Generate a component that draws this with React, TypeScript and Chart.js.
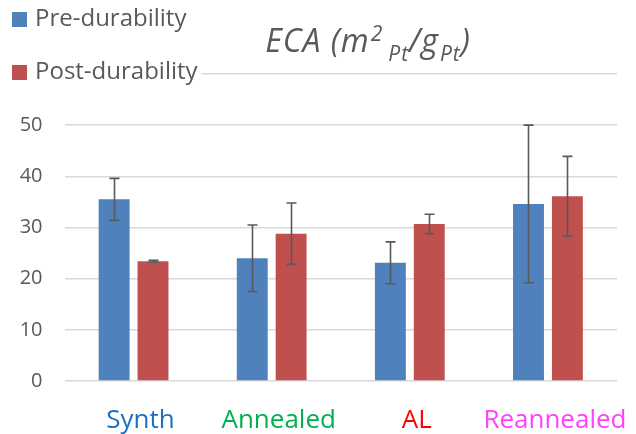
import React, { useEffect, useRef } from "react";
import { Chart, registerables } from "chart.js";

Chart.register(...registerables);

const categories = ["Synth", "Annealed", "AL", "Reannealed"];
const categoryColors = ["#1f6fc0", "#00b050", "#ff0000", "#ff40ff"];
const seriesNames = ["Pre-durability", "Post-durability"];
const seriesColors = ["#4f81bd", "#c0504d"];
const preValues = [35.5, 24.0, 23.1, 34.6];
const postValues = [23.4, 28.8, 30.7, 36.1];
const preErrors = [4.1, 6.5, 4.1, 15.4];
const postErrors = [0.2, 6.0, 1.9, 7.8];
const yTickLabels = [0, 10, 20, 30, 40, 50];
const yMax = 60;

const TEXT = "#595959";
const FONT = "'Open Sans', sans-serif";

const errorBarPlugin = {
  id: "errorBars",
  afterDatasetsDraw(chart: any) {
    const ctx = chart.ctx;
    const yScale = chart.scales.y;
    const errs = [preErrors, postErrors];
    ctx.save();
    ctx.strokeStyle = "#595959";
    ctx.lineWidth = 1.6;
    chart.data.datasets.forEach((ds: any, i: number) => {
      const meta = chart.getDatasetMeta(i);
      meta.data.forEach((el: any, j: number) => {
        const v = ds.data[j];
        const e = errs[i][j];
        const x = Math.round(el.x) + 0.5;
        const yTop = yScale.getPixelForValue(v + e);
        const yBot = yScale.getPixelForValue(v - e);
        const cap = 5;
        ctx.beginPath();
        ctx.moveTo(x, yTop);
        ctx.lineTo(x, yBot);
        ctx.moveTo(x - cap, yTop);
        ctx.lineTo(x + cap, yTop);
        ctx.moveTo(x - cap, yBot);
        ctx.lineTo(x + cap, yBot);
        ctx.stroke();
      });
    });
    ctx.restore();
  },
};

// title pieces: text, font size, baseline shift, extra gap before
const titlePieces: [string, number, number, number][] = [
  ["ECA (m", 32, 0, 0],
  ["2", 21, -11, 1],
  ["Pt", 21, 9, 5],
  ["/g", 32, 0, 0],
  ["Pt", 21, 9, 1],
  [")", 32, 0, 0],
];

const titlePlugin = {
  id: "richTitle",
  afterDraw(chart: any) {
    const ctx = chart.ctx;
    ctx.save();
    ctx.fillStyle = TEXT;
    ctx.textBaseline = "alphabetic";
    ctx.textAlign = "left";
    try {
      (ctx as any).letterSpacing = "1px";
    } catch (e) {}
    let total = 0;
    titlePieces.forEach(([t, size, , gap]) => {
      ctx.font = `italic ${size}px ${FONT}`;
      total += gap + ctx.measureText(t).width;
    });
    const cx = 368;
    const base = 52;
    let x = cx - total / 2;
    titlePieces.forEach(([t, size, dy, gap]) => {
      ctx.font = `italic ${size}px ${FONT}`;
      x += gap;
      ctx.fillText(t, x, base + dy);
      x += ctx.measureText(t).width;
    });
    ctx.restore();
  },
};

const legendPlugin = {
  id: "customLegend",
  afterDraw(chart: any) {
    const ctx = chart.ctx;
    ctx.save();
    ctx.font = `24px ${FONT}`;
    ctx.textBaseline = "middle";
    ctx.textAlign = "left";
    const rows = [19.5, 72.5];
    seriesNames.forEach((name, i) => {
      const cy = rows[i];
      const w = ctx.measureText(name).width;
      ctx.fillStyle = "#ffffff";
      ctx.fillRect(8, cy - 16, 35 + w + 4 - 8, 32);
      ctx.fillStyle = seriesColors[i];
      ctx.fillRect(12, cy - 7.5, 15, 15);
      ctx.fillStyle = TEXT;
      ctx.fillText(name, 35, cy);
    });
    ctx.restore();
  },
};

export default function App() {
  const ref = useRef<HTMLCanvasElement | null>(null);
  useEffect(() => {
    document.body.style.margin = "0";
    const canvas = ref.current;
    if (!canvas) return;
    const chart = new Chart(canvas, {
      type: "bar",
      data: {
        labels: categories,
        datasets: [
          {
            label: seriesNames[0],
            data: preValues,
            backgroundColor: seriesColors[0],
            categoryPercentage: 0.563,
            barPercentage: 0.795,
          },
          {
            label: seriesNames[1],
            data: postValues,
            backgroundColor: seriesColors[1],
            categoryPercentage: 0.563,
            barPercentage: 0.795,
          },
        ],
      },
      options: {
        responsive: false,
        animation: false,
        layout: { padding: { top: 74, right: 19, left: 0, bottom: 0 } },
        plugins: {
          legend: { display: false },
          title: { display: false },
          tooltip: { enabled: false },
        },
        scales: {
          x: {
            grid: { display: false },
            border: { display: false },
            ticks: {
              font: { family: FONT, size: 26 },
              color: (c: any) => categoryColors[c.index],
              padding: 16,
              labelOffset: 7,
              maxRotation: 0,
              autoSkip: false,
            },
            afterFit: (s: any) => {
              s.height = 53;
              s.paddingLeft = 0;
              s.paddingRight = 0;
            },
          },
          y: {
            min: 0,
            max: yMax,
            grid: { color: "#d9d9d9", lineWidth: 1.5, drawTicks: false },
            border: { display: false },
            ticks: {
              stepSize: 10,
              padding: 22,
              font: { family: FONT, size: 20 },
              color: TEXT,
              callback: (v: any) => (yTickLabels.includes(Number(v)) ? String(v) : ""),
            },
            afterFit: (s: any) => {
              s.width = 64.5;
            },
          },
        },
      },
      plugins: [errorBarPlugin, legendPlugin, titlePlugin],
    });
    return () => chart.destroy();
  }, []);
  return (
    <div style={{ width: 636, height: 434, background: "#ffffff" }}>
      <canvas ref={ref} width={636} height={434} style={{ display: "block" }} />
    </div>
  );
}
